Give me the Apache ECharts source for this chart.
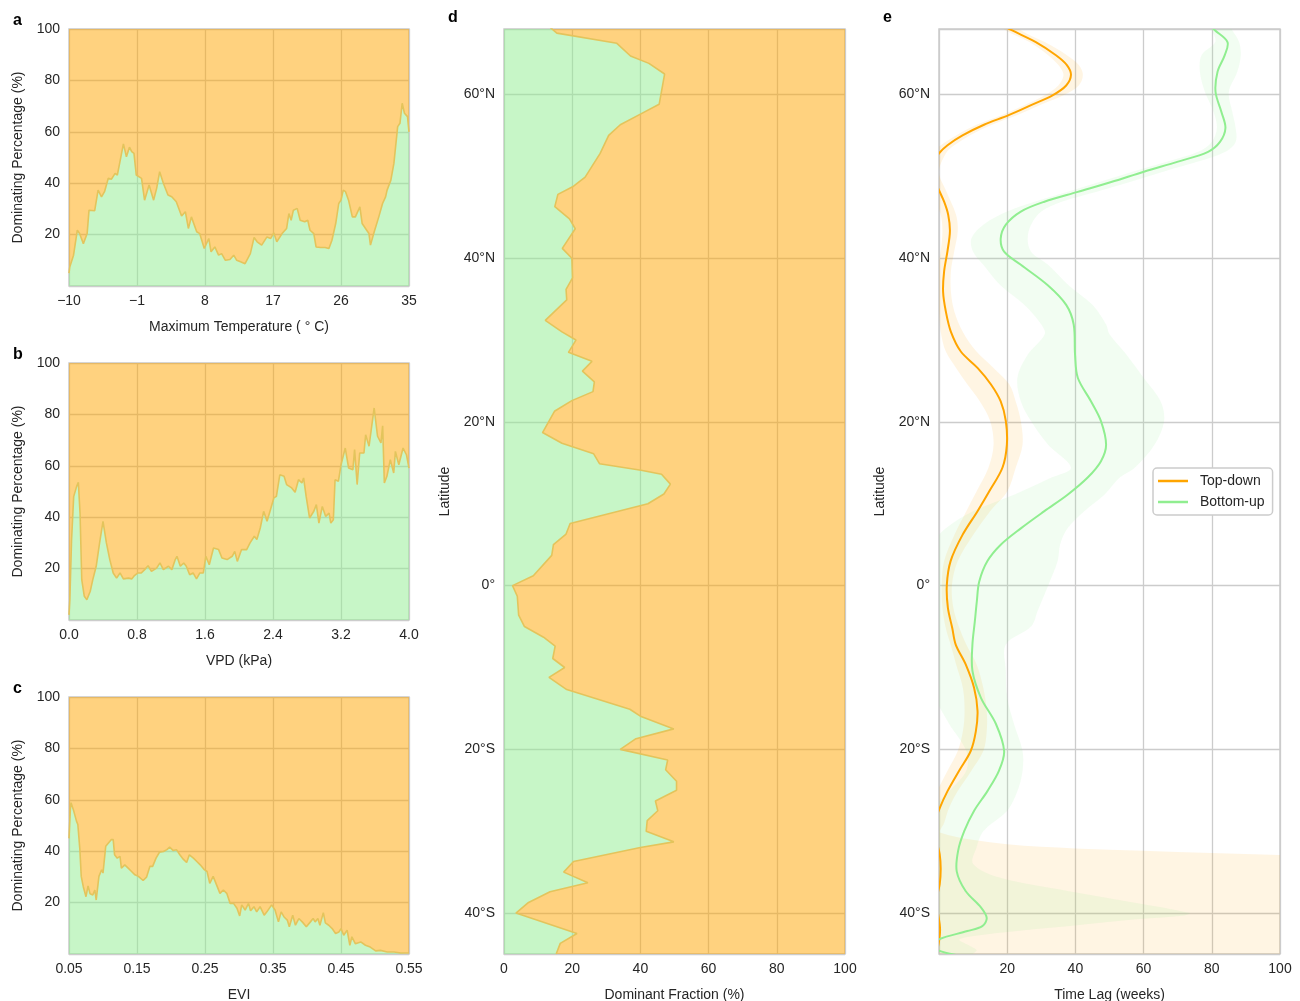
<!DOCTYPE html>
<html><head><meta charset="utf-8">
<script src="https://cdn.jsdelivr.net/npm/echarts@6/dist/echarts.min.js"></script>
<style>html,body{margin:0;padding:0;background:#fff}#c{width:1300px;height:1001px}</style>
</head><body><div id="c"></div>
<script>
// ---------- Panel a: Maximum temperature ----------
const aTemp = [-10,-9.9,-9.4,-8.9,-8.6,-8.1,-7.6,-7.35,-6.6,-6.4,-6.15,-5.7,-5.3,-4.8,-4.4,-3.9,-3.6,-3.3,-2.8,-2.4,-2.0,-1.7,-1.4,-1.1,-0.4,0.0,0.6,1.2,1.6,2.0,2.5,3.1,3.6,4.2,4.9,5.4,5.8,6.2,6.9,7.3,7.9,8.5,8.8,9.3,9.8,10.2,10.7,11.3,11.8,12.2,12.7,13.3,14.0,14.5,14.9,15.5,16.2,16.7,17.1,17.5,18.2,18.8,19.1,19.4,19.7,20.2,20.6,21.2,21.6,21.9,22.4,22.7,23.3,23.9,24.4,24.8,25.3,25.7,26.0,26.3,26.6,27.0,27.5,27.9,28.5,28.8,29.4,29.7,29.9,30.4,31.0,31.5,31.9,32.1,32.6,33.0,33.5,33.8,34.1,34.4,34.8,35.0];
const aPct  = [5.0,7.4,12,21.7,20.4,16.5,20.4,29.5,29.3,29.5,37.3,34.7,36.7,41.9,41.5,43.8,43.2,47.7,55.3,50.3,54.0,52.3,51.6,43.2,41.9,33.4,39.3,33.4,38.0,44.5,39.9,35.4,34.7,32.8,27.2,28.9,22.4,26.9,21.1,20.4,14.6,18.5,13.3,15.2,12.0,12.6,10.0,10.3,12.0,10.0,9.4,8.7,12.6,18.9,17.2,15.9,19.1,18.5,20.7,17.2,20.4,22.4,28.2,25.6,29.5,30.2,25.6,25.0,25.6,21.7,20.4,15.2,15.0,15.0,14.6,17.8,24.3,32.1,33.4,37.3,36.7,33.4,26.9,26.9,30.8,24.3,21.7,20.4,15.9,21.1,26.9,32.1,34.7,37.3,41.2,47.7,62.0,63.3,71.1,67.2,65.9,60.0];
const aTicks = [-10,-1,8,17,26,35];

// ---------- Panel b: VPD ----------
const bVpd = [0,0.01,0.03,0.055,0.09,0.11,0.13,0.15,0.18,0.21,0.25,0.28,0.32,0.36,0.40,0.44,0.48,0.52,0.56,0.60,0.64,0.70,0.74,0.77,0.81,0.85,0.89,0.93,0.97,1.03,1.07,1.11,1.17,1.21,1.25,1.27,1.31,1.35,1.38,1.42,1.46,1.50,1.54,1.58,1.61,1.65,1.70,1.76,1.80,1.86,1.92,1.95,1.98,2.03,2.09,2.13,2.18,2.21,2.25,2.29,2.33,2.37,2.41,2.44,2.48,2.53,2.56,2.62,2.66,2.70,2.74,2.76,2.79,2.83,2.88,2.91,2.94,2.98,3.02,3.06,3.08,3.11,3.13,3.17,3.20,3.25,3.29,3.34,3.36,3.39,3.42,3.47,3.49,3.53,3.59,3.63,3.67,3.69,3.71,3.74,3.78,3.82,3.84,3.88,3.93,3.97,4.0];
const bPct = [2,7.9,31,48,52,53.6,41.6,15.7,9.2,7.9,11.2,15.7,20.9,30.0,38.4,30.0,23.5,18.3,16.3,18.3,16.0,16.3,16.0,17.3,18.3,18.3,19.6,21.1,18.9,20.2,22.2,19.6,20.9,19.6,23.5,24.8,20.9,22.2,20.9,17.6,18.3,16.0,18.3,18.3,24.8,21.5,28.0,27.4,24.1,23.5,24.8,26.7,22.8,27.4,27.4,30.0,32.6,31.3,35.8,42.3,38.4,42.9,47.5,48.1,56.5,55.9,52.7,51.4,49.7,54.6,53.3,55.3,48.1,39.7,42.3,44.9,37.7,44.2,40.3,41.6,37.7,39.0,54.6,54.0,60.4,66.9,59.1,58.5,66.3,52.7,65.0,65.0,72.1,67.6,82.5,71.5,68.9,75.6,53.3,55.9,62.4,57.2,65.6,60.4,66.9,64.3,59.1];
const bTicks = [0.0,0.8,1.6,2.4,3.2,4.0];

// ---------- Panel c: EVI ----------
const cEvi = [0.05,0.052,0.053,0.057,0.061,0.063,0.066,0.068,0.071,0.075,0.078,0.081,0.085,0.088,0.090,0.094,0.098,0.100,0.104,0.108,0.112,0.115,0.117,0.121,0.125,0.127,0.132,0.137,0.142,0.147,0.152,0.159,0.164,0.169,0.173,0.178,0.183,0.189,0.194,0.198,0.203,0.208,0.213,0.218,0.223,0.227,0.233,0.238,0.243,0.249,0.253,0.257,0.262,0.267,0.272,0.277,0.282,0.287,0.292,0.297,0.301,0.304,0.309,0.314,0.317,0.322,0.326,0.331,0.337,0.341,0.348,0.353,0.358,0.362,0.366,0.371,0.374,0.379,0.383,0.388,0.393,0.399,0.405,0.409,0.412,0.416,0.419,0.424,0.427,0.432,0.437,0.442,0.447,0.450,0.454,0.459,0.463,0.466,0.471,0.479,0.486,0.493,0.501,0.508,0.518,0.528,0.538,0.55];
const cPct = [45,56.3,58.9,55.6,51.7,50.4,40.6,30.2,26.2,22.3,26.5,23.4,23.0,24.9,21.0,30.2,32.8,31.5,41.9,43.2,44.5,44.5,38.6,37.3,38.0,33.4,34.7,33.4,32.1,30.8,30.2,28.6,29.9,34.1,34.1,37.3,39.6,39.9,40.6,41.6,40.3,40.6,38.6,36.9,35.6,38.6,37.3,36.0,34.7,32.8,32.1,27.5,30.2,26.9,23.6,24.9,23.6,19.7,19.7,17.8,14.8,19.1,17.1,19.7,16.8,18.4,16.4,18.4,15.1,16.4,19.1,17.1,12.5,16.4,14.5,13.2,10.6,15.1,11.2,13.8,12.5,10.6,12.5,13.8,12.5,13.8,11.2,16.1,12.1,11.2,9.9,8.0,8.6,9.9,7.3,9.3,3.4,6.7,4.0,4.7,3.4,2.7,1.2,1.4,0.8,0.8,0.4,0.4];
const cTicks = [0.05,0.15,0.25,0.35,0.45,0.55];

// ---------- Panel d: dominant fraction by latitude ----------
const dLat  = [68.75,67.5,66.25,64.7,63.8,62.5,58.8,57.6,56.3,55.0,52.8,49.9,48.8,47.8,46.3,44.8,43.6,41.2,40.0,37.6,36.2,34.9,32.4,31.0,30.0,28.5,27.4,26.2,24.9,23.7,22.6,21.3,18.7,17.4,16.1,14.9,14.1,13.6,12.4,11.2,10.0,7.6,6.3,5.0,3.7,1.2,0,-1.3,-3.6,-5.0,-6.3,-7.4,-8.9,-10.0,-11.2,-12.7,-15.1,-16.0,-17.5,-18.7,-20,-21.3,-22.5,-23.9,-25.0,-26.3,-27.5,-28.7,-30.0,-31.3,-32.0,-33.7,-35.0,-36.3,-37.4,-38.7,-40.0,-42.5,-43.7,-45];
const dFrac = [12.0,15.5,33.1,37.1,42.5,47.1,45.5,40.0,34.1,30.7,28.2,23.8,20.4,15.8,14.9,19.2,20.9,17.1,19.9,20.1,18.2,18.4,12.1,17.0,21.1,18.9,25.8,23.0,26.5,26.1,19.9,14.8,11.3,17.0,26.3,28.0,40.2,46.2,48.8,46.9,42.2,19.4,18.2,14.5,14.0,8.6,2.5,3.9,4.3,6.0,11.6,15.0,14.3,17.8,13.2,18.4,36.9,40.2,49.8,38.7,34.1,48.0,47.4,50.6,50.6,44.4,45.1,42.0,41.7,49.8,40.0,20.4,17.5,24.6,13.5,7.2,3.5,21.4,16.5,15.3];

// ---------- Panel e: time lag by latitude ----------
const tdLat = [68.4,67.85,66.4,64.8,63.6,62.4,61.1,59.9,58.7,57.5,56.3,55.0,53.8,52.8,51.5,50.5,49.5,48.3,46.9,45.3,43.3,40.9,38.4,35.9,33.5,31.0,28.6,26.6,24.6,22.5,20.1,17.2,14.4,11.5,9.1,6.2,3.0,0.1,-2.7,-5.2,-7.2,-9.6,-12.5,-15.3,-17.8,-20.2,-22.6,-25.1,-27.1,-29,-31,-32.8,-34.6,-36.5,-38.5,-40,-41.8,-43.2,-45.5];
const tdLag = [18.8,21.3,28.4,34.3,37.5,38.7,37.3,33.3,27.0,20.6,13.2,6.9,2.5,0,-1.5,-2,-1.3,0,1.5,2.7,3.2,2.5,1.5,1.2,2.0,3.5,6.4,11.3,15.2,18.1,19.6,19.9,18.6,14.7,11.3,6.9,3.4,2.3,2.6,3.9,4.9,7.8,10.3,11.3,10.8,9.3,5.9,2.5,0.3,-1.2,-0.8,0.2,0.5,0.2,-0.8,-0.3,0.3,0.1,-1];
const buLat = [68.4,67.85,66.4,64.8,62.8,60.3,57.9,55.9,54.2,53.0,51.8,50.6,49.3,48.1,46.9,45.7,44.1,42.4,40.8,39.2,36.7,34.3,31.9,28.2,25.4,22.5,20.1,17.2,15.2,13.2,11.1,9.1,7.0,5.0,3.0,0.5,-1.9,-4.4,-7.2,-10.4,-13.7,-16.9,-20.2,-22.6,-25.1,-27.5,-30.0,-32.4,-34.9,-37.3,-39.3,-40.6,-41.6,-42.2,-43.2,-43.9,-44.6,-45.3];
const buLag = [79.5,80.9,84.6,83.8,81.7,81.1,82.8,84.0,82.4,78.9,70.1,60.3,50.5,40.7,30.9,24.0,19.6,18.1,19.1,24.0,31.9,37.3,39.5,39.9,40.7,44.6,47.5,49.0,47.5,43.6,37.7,30.9,24.0,18.1,14.2,11.8,11.1,10.5,9.8,9.8,12.3,16.7,19.1,17.6,14.2,10.3,7.4,5.6,5.2,7.8,12.3,14.0,12.7,8.3,0,-1.5,0,7];
// uncertainty bands: [latitude, low, high]
const tdBand = [[69,16,22],[67.85,19.5,24],[66.4,26.5,31],[64.8,32,37.5],[63.6,35,41],[62.4,36.5,42.2],[61.1,35,41],[59.9,31,36.5],[58.7,25,29.5],[57.5,18.5,23],[56.3,11,15.5],[55.0,5,9],[53.8,0.5,4.5],[52.8,-2,2],[50.5,-4,0],[48.3,-2,2],[45.3,0.5,5],[43.3,1,5.5],[40.9,0.5,4.5],[38.4,-0.5,3.5],[35.9,-0.5,3.5],[33.5,0,4.5],[31,0.5,7],[28.6,2,11],[26.6,5,16],[24.6,8.3,20.6],[22.5,12,22.5],[20.1,15,24],[17.2,16,24.5],[14.4,14.5,22.5],[11.5,11,20],[9.1,8,15],[6.2,4.5,10],[3.0,1.5,5.5],[0.1,0.8,3.8],[-2.7,1,4.2],[-5.2,2,6],[-7.2,3.4,8],[-9.6,5,11],[-12.5,7,13],[-15.3,7.5,14],[-17.8,7,14],[-20.2,5.5,13],[-22.6,2.5,9.5],[-25.1,-0.5,5.5],[-27.1,-2,3],[-29,-3,1.5],[-30.2,-4,0.5],[-31.6,-5,20],[-32.1,-5,40],[-32.4,-5,60],[-32.9,-5,100],[-33.5,-5,200],[-46,-5,200]];
const buBand = [[69,78,84],[67.85,80,86],[66.4,81,88],[64.8,77,88.5],[62.8,76.5,87.5],[60.3,78,85],[57.9,80.5,86],[55.9,81.5,87],[54.2,80,87],[53.0,76,84],[51.8,67,76],[50.6,57,66],[49.3,47,56],[48.1,37.5,46],[46.9,28,36],[45.7,20,30],[44.1,13,27],[42.4,9.5,26],[40.8,10,27],[39.2,13,32],[36.7,18,38],[34.3,25,45],[31.9,30,49],[30.7,31,50],[28.2,26,55],[25.4,23,60],[22.5,24,65],[20.1,27,66],[17.2,32,63.2],[14.4,38.7,57.4],[13.2,33,53],[11.1,22,48.5],[9.1,10,42.6],[7.0,2,37.7],[5.0,-2,35.5],[3.0,-2,34.8],[0.0,-2,32],[-3.0,-2,29],[-5.0,-2,27],[-7.2,-2,19.6],[-10.4,-2,19.6],[-13.7,-1,20],[-16.9,3,22],[-20.2,8,24.5],[-22.6,8,24.5],[-25.1,3,23],[-27.5,-2,20],[-30,-2,13],[-32,-2,11],[-34,-2,10],[-35.7,-2,18],[-37.3,-2,37.7],[-38.7,-2,57],[-40,-2,73.5],[-40.3,-2,72],[-40.8,-2,57],[-41.6,-2,37.7],[-42.4,-2,18],[-43.2,-2,6],[-44,-2,9],[-44.6,-2,11],[-46,-2,5]];
const latTicks = [-40,-20,0,20,40,60];
const pctTicks = [20,40,60,80,100];

// ---------- styling ----------
const FONT = '"Liberation Sans", Arial, Helvetica, sans-serif';
const FS = 14;
const TXT = '#262626';
const ORANGE_FILL = 'rgba(255,165,0,0.5)';
const GREEN_FILL = 'rgba(144,238,144,0.5)';
const EDGE = '#e3c45c';
const GRIDC = '#cccccc';

function zip(xs, ys) { return xs.map((x, i) => [x, ys[i]]); }
function fmtLat(v) {
  if (latTicks.indexOf(v) < 0) return '';
  if (v === 0) return '0°';
  return v > 0 ? v + '°N' : (-v) + '°S';
}
function lbl(margin, formatter) {
  const o = { color: TXT, fontSize: FS, fontFamily: FONT, margin: margin };
  if (formatter) o.formatter = formatter;
  return o;
}
function axisBase(extra) {
  return Object.assign({
    type: 'value',
    axisLine: { show: false },
    axisTick: { show: false },
    splitLine: { show: true, lineStyle: { color: GRIDC, width: 1.3 } },
    axisLabel: lbl(8),
    nameLocation: 'middle',
    nameTextStyle: { color: TXT, fontSize: FS, fontFamily: FONT }
  }, extra);
}
const gridBase = { show: true, borderColor: GRIDC, borderWidth: 1.5, backgroundColor: 'transparent', outerBoundsMode: 'none', containLabel: false };

// smooth path (chord-length cubic Hermite) through pixel points
function splineSegs(pts) {
  const n = pts.length;
  const T = pts.map((p, i) => {
    const a = pts[Math.max(0, i - 1)], b = pts[Math.min(n - 1, i + 1)];
    const d0 = i > 0 ? Math.hypot(p[0] - a[0], p[1] - a[1]) : 0;
    const d1 = i < n - 1 ? Math.hypot(b[0] - p[0], b[1] - p[1]) : 0;
    const s = (d0 + d1) || 1;
    return [(b[0] - a[0]) / s, (b[1] - a[1]) / s];
  });
  let d = '';
  for (let i = 0; i < n - 1; i++) {
    const p = pts[i], q = pts[i + 1];
    const L = Math.hypot(q[0] - p[0], q[1] - p[1]) / 3;
    d += ' C' + (p[0] + T[i][0] * L).toFixed(2) + ' ' + (p[1] + T[i][1] * L).toFixed(2) + ' ' +
         (q[0] - T[i + 1][0] * L).toFixed(2) + ' ' + (q[1] - T[i + 1][1] * L).toFixed(2) + ' ' +
         q[0].toFixed(2) + ' ' + q[1].toFixed(2);
  }
  return d;
}
const mv = p => 'M' + p[0].toFixed(2) + ' ' + p[1].toFixed(2);

function stackedPanel(gi, xs, ys) {
  return [
    { type: 'line', xAxisIndex: gi, yAxisIndex: gi, data: zip(xs, ys), symbol: 'none', silent: true, clip: true,
      lineStyle: { opacity: 0 }, areaStyle: { color: ORANGE_FILL, origin: 'end', opacity: 1 }, z: 2 },
    { type: 'line', xAxisIndex: gi, yAxisIndex: gi, data: zip(xs, ys), symbol: 'none', silent: true, clip: true,
      lineStyle: { color: EDGE, width: 1.6 }, areaStyle: { color: GREEN_FILL, origin: 'start', opacity: 1 }, z: 3 }
  ];
}
// horizontal area (between x = baseX and the latitude profile)
function profileArea(gi, xs, lats, baseX, color) {
  return {
    type: 'custom', xAxisIndex: gi, yAxisIndex: gi, clip: true, silent: true, z: 2,
    data: zip(xs, lats),
    renderItem: function (params, api) {
      if (params.dataIndex !== 0) return;
      const pts = [api.coord([baseX, lats[0]])]
        .concat(xs.map((x, i) => api.coord([x, lats[i]])))
        .concat([api.coord([baseX, lats[lats.length - 1]])]);
      return { type: 'polygon', shape: { points: pts }, style: { fill: color } };
    }
  };
}
function bandSeries(gi, band, color) {
  return {
    type: 'custom', xAxisIndex: gi, yAxisIndex: gi, clip: true, silent: true, z: 1,
    data: band.map(b => [b[1], b[0], b[2]]),
    renderItem: function (params, api) {
      if (params.dataIndex !== 0) return;
      const lo = band.map(b => api.coord([b[1], b[0]]));
      const hi = band.map(b => api.coord([b[2], b[0]])).reverse();
      const d = mv(lo[0]) + splineSegs(lo) + ' L' + hi[0][0].toFixed(2) + ' ' + hi[0][1].toFixed(2) + splineSegs(hi) + ' Z';
      return { type: 'path', shape: { pathData: d }, style: { fill: color, stroke: null } };
    }
  };
}
function curveSeries(gi, name, xs, lats, color) {
  return {
    type: 'custom', name: name, xAxisIndex: gi, yAxisIndex: gi, clip: true, silent: true, z: 4,
    itemStyle: { color: color },
    data: zip(xs, lats),
    renderItem: function (params, api) {
      if (params.dataIndex !== 0) return;
      const pts = xs.map((x, i) => api.coord([x, lats[i]]));
      return { type: 'path', shape: { pathData: mv(pts[0]) + splineSegs(pts) },
        style: { fill: null, stroke: color, lineWidth: 2, lineJoin: 'round', lineCap: 'round' } };
    }
  };
}

const chart = echarts.init(document.getElementById('c'), null, { renderer: 'canvas' });
const letter = (t, x, y) => ({ type: 'text', left: x, top: y, style: { text: t, font: 'bold 16px ' + FONT, fill: '#000' } });

chart.setOption({
  animation: false,
  backgroundColor: '#ffffff',
  graphic: [letter('a', 13, 13), letter('b', 13, 347), letter('c', 13, 681), letter('d', 448, 10), letter('e', 883, 10)],
  legend: {
    data: [{ name: 'Top-down', itemStyle: { color: '#ffa500' } }, { name: 'Bottom-up', itemStyle: { color: '#90ee90' } }],
    orient: 'vertical', left: 1153, top: 468,
    icon: 'rect', itemWidth: 30, itemHeight: 2.5, itemGap: 7,
    padding: [6, 8, 6, 5], borderColor: GRIDC, borderWidth: 1.5, borderRadius: 4, backgroundColor: '#fff',
    textStyle: { color: TXT, fontSize: FS, fontFamily: FONT, padding: [0, 0, 0, 7] }
  },
  grid: [
    Object.assign({ left: 69, top: 29, width: 340, height: 257 }, gridBase),
    Object.assign({ left: 69, top: 363, width: 340, height: 257 }, gridBase),
    Object.assign({ left: 69, top: 697, width: 340, height: 257 }, gridBase),
    Object.assign({ left: 504, top: 29, width: 341, height: 925 }, gridBase),
    Object.assign({ left: 939, top: 29, width: 341, height: 925 }, gridBase)
  ],
  xAxis: [
    axisBase({ gridIndex: 0, min: aTicks[0], max: aTicks[aTicks.length - 1], interval: 9, name: 'Maximum Temperature ( ° C)', nameGap: 34,
      axisLabel: lbl(8, v => String(Math.round(v)).replace('-', '\u2212')) }),
    axisBase({ gridIndex: 1, min: bTicks[0], max: bTicks[bTicks.length - 1], interval: 0.8, name: 'VPD (kPa)', nameGap: 34,
      axisLabel: lbl(8, v => (+v).toFixed(1)) }),
    axisBase({ gridIndex: 2, min: cTicks[0], max: cTicks[cTicks.length - 1], interval: 0.1, name: 'EVI', nameGap: 34,
      axisLabel: lbl(8, v => (+v).toFixed(2)) }),
    axisBase({ gridIndex: 3, min: 0, max: 100, interval: 20, name: 'Dominant Fraction (%)', nameGap: 34 }),
    axisBase({ gridIndex: 4, min: 0, max: 100, interval: 20, name: 'Time Lag (weeks)', nameGap: 34,
      axisLabel: lbl(8, v => v === 0 ? '' : String(v)) })
  ],
  yAxis: [0, 1, 2].map(gi => axisBase({ gridIndex: gi, min: 0, max: 100, interval: 20, name: 'Dominating Percentage (%)', nameGap: 44,
      axisLabel: lbl(9, v => pctTicks.indexOf(v) < 0 ? '' : String(v)) }))
    .concat([3, 4].map(gi => axisBase({ gridIndex: gi, min: -45, max: 68, splitNumber: 5, name: 'Latitude', nameGap: 52,
      axisLabel: lbl(9, fmtLat) }))),
  series: [].concat(
    stackedPanel(0, aTemp, aPct),
    stackedPanel(1, bVpd, bPct),
    stackedPanel(2, cEvi, cPct),
    [
      profileArea(3, dFrac, dLat, 100, ORANGE_FILL),
      profileArea(3, dFrac, dLat, 0, GREEN_FILL),
      { type: 'line', xAxisIndex: 3, yAxisIndex: 3, data: zip(dFrac, dLat), symbol: 'none', silent: true, clip: true,
        lineStyle: { color: EDGE, width: 1.6 }, z: 3 },
      bandSeries(4, tdBand, 'rgba(255,165,0,0.11)'),
      bandSeries(4, buBand, 'rgba(144,238,144,0.12)'),
      curveSeries(4, 'Top-down', tdLag, tdLat, '#ffa500'),
      curveSeries(4, 'Bottom-up', buLag, buLat, '#90ee90')
    ]
  )
});
</script>
</body></html>
